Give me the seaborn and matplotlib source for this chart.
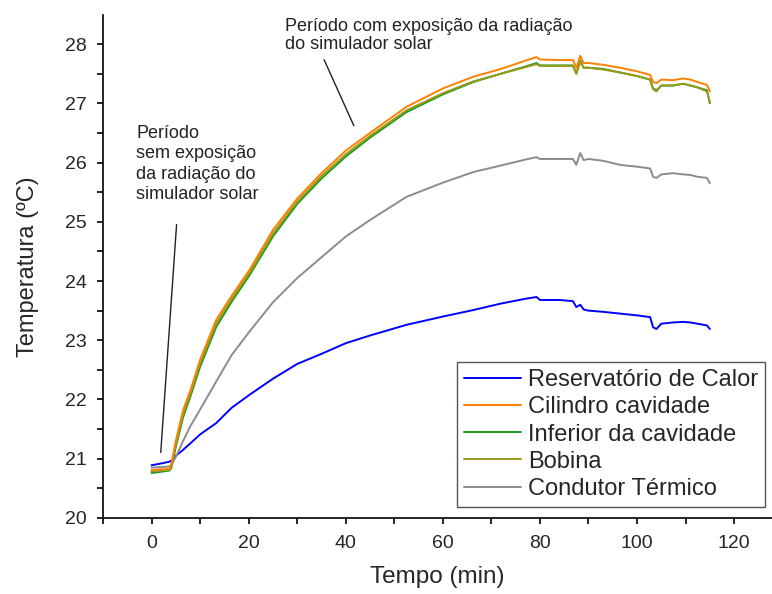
import numpy as np
import pandas as pd
import matplotlib
matplotlib.use("Agg")
import matplotlib.pyplot as plt
import seaborn as sns
from matplotlib.ticker import MultipleLocator

# time axis (min)
tempo = [0, 2, 3.7, 4.1, 5, 6.5, 8, 10, 13.3, 16.5, 20.2, 25, 30, 35, 40, 45,
         52.5, 60, 66.3, 72, 77, 79.3, 80, 84, 86.8, 87.5, 88.3, 89, 90, 93,
         96.5, 100, 102.7, 103.3, 104, 105, 107.4, 109.5, 111, 112.4, 114.4, 115]

reservatorio = [20.89, 20.92, 20.95, 20.97, 21.05, 21.15, 21.26, 21.41, 21.6, 21.86,
                22.08, 22.35, 22.6, 22.77, 22.95, 23.08, 23.26, 23.4, 23.51, 23.62,
                23.7, 23.73, 23.68, 23.68, 23.66, 23.56, 23.6, 23.52, 23.5, 23.48,
                23.45, 23.42, 23.39, 23.22, 23.19, 23.28, 23.3, 23.31, 23.3, 23.28,
                23.25, 23.19]
cilindro = [20.81, 20.82, 20.83, 20.92, 21.3, 21.82, 22.15, 22.67, 23.34, 23.75,
            24.19, 24.86, 25.39, 25.82, 26.2, 26.5, 26.94, 27.25, 27.45, 27.58,
            27.72, 27.78, 27.74, 27.73, 27.73, 27.6, 27.8, 27.68, 27.68, 27.65,
            27.6, 27.54, 27.48, 27.36, 27.34, 27.4, 27.39, 27.42, 27.4, 27.36,
            27.31, 27.2]
inferior = [20.76, 20.78, 20.8, 20.85, 21.2, 21.7, 22.05, 22.55, 23.22, 23.65,
            24.1, 24.75, 25.3, 25.73, 26.1, 26.42, 26.85, 27.15, 27.36, 27.5,
            27.62, 27.68, 27.64, 27.64, 27.64, 27.5, 27.72, 27.6, 27.6, 27.58,
            27.52, 27.46, 27.4, 27.25, 27.22, 27.3, 27.3, 27.33, 27.3, 27.27,
            27.22, 27.0]
bobina = [20.79, 20.8, 20.81, 20.88, 21.25, 21.76, 22.1, 22.61, 23.28, 23.7,
          24.14, 24.8, 25.34, 25.77, 26.14, 26.45, 26.88, 27.17, 27.37, 27.5,
          27.61, 27.66, 27.63, 27.63, 27.63, 27.5, 27.7, 27.6, 27.6, 27.57,
          27.52, 27.46, 27.4, 27.24, 27.2, 27.3, 27.3, 27.33, 27.3, 27.27,
          27.2, 27.02]
condutor = [20.85, 20.86, 20.87, 20.9, 21.03, 21.3, 21.55, 21.83, 22.3, 22.75,
            23.15, 23.64, 24.05, 24.4, 24.75, 25.03, 25.42, 25.66, 25.84, 25.95,
            26.05, 26.09, 26.06, 26.06, 26.06, 25.96, 26.16, 26.04, 26.06, 26.03,
            25.96, 25.93, 25.9, 25.76, 25.74, 25.8, 25.82, 25.8, 25.79, 25.76,
            25.74, 25.65]

series = ["Reservatório de Calor", "Cilindro cavidade", "Inferior da cavidade",
          "Bobina", "Condutor Térmico"]
colors = ["#0000ff", "#ff8000", "#1e9a1e", "#9a9a1a", "#8c8c8c"]

df = pd.DataFrame({"Tempo": tempo * 5,
                   "Temperatura": reservatorio + cilindro + inferior + bobina + condutor,
                   "serie": [s for s in series for _ in tempo]})

sns.set_style("ticks")
plt.rcParams["font.family"] = ["Liberation Sans", "DejaVu Sans"]

fig = plt.figure(figsize=(7.72, 5.94), dpi=100)
ax = fig.add_axes([0.1334, 0.128, 0.8666, 0.8467])

# draw order: orange on top of green/olive
zorders = [3, 5, 3, 4, 3]
for s, c, z in zip(series, colors, zorders):
    sns.lineplot(data=df[df["serie"] == s], x="Tempo", y="Temperatura", color=c,
                 lw=1.4, ax=ax, label=s, zorder=z, errorbar=None)

ax.set_xlim(-10, 127.8)
ax.set_ylim(20, 28.49)
ax.xaxis.set_major_locator(MultipleLocator(20))
ax.xaxis.set_minor_locator(MultipleLocator(10))
ax.yaxis.set_major_locator(MultipleLocator(1))
ax.yaxis.set_minor_locator(MultipleLocator(0.5))
ax.tick_params(which="both", direction="out", length=4.5, width=1.2, color="black")
ax.tick_params(axis="y", which="major", labelsize=14, pad=7)
ax.tick_params(axis="x", which="major", labelsize=14, pad=8)
for sp in ["top", "right"]:
    ax.spines[sp].set_visible(False)
for sp in ["left", "bottom"]:
    ax.spines[sp].set_linewidth(1.2)
    ax.spines[sp].set_color("black")

ax.set_xlabel("Tempo (min)", fontsize=17.5, labelpad=10)
ax.set_ylabel("Temperatura (ºC)", fontsize=17, labelpad=19)

# annotations
ax.text(27.4, 28.44, "Período com exposição da radiação\ndo simulador solar",
        fontsize=13, ha="left", va="top", color="#222222", linespacing=1.1)
ax.annotate("", xy=(41.9, 26.58), xytext=(35.3, 27.78),
            arrowprops=dict(arrowstyle="-", color="#222222", lw=1.0))
ax.text(-3.1, 26.63, "Período\nsem exposição\nda radiação do\nsimulador solar",
        fontsize=13, ha="left", va="top", color="#222222", linespacing=1.25)
ax.annotate("", xy=(1.86, 21.06), xytext=(5.2, 25.0),
            arrowprops=dict(arrowstyle="-", color="#222222", lw=1.0))

leg = ax.legend(loc="lower right", bbox_to_anchor=(0.991, 0.1465),
                bbox_transform=fig.transFigure, borderaxespad=0, fontsize=17,
                frameon=True, fancybox=False, edgecolor="#555555", framealpha=1,
                handlelength=2.4, handletextpad=0.3, labelspacing=0.22,
                borderpad=0.3)
leg.get_frame().set_linewidth(1.0)

fig.savefig("out.png", dpi=100)
